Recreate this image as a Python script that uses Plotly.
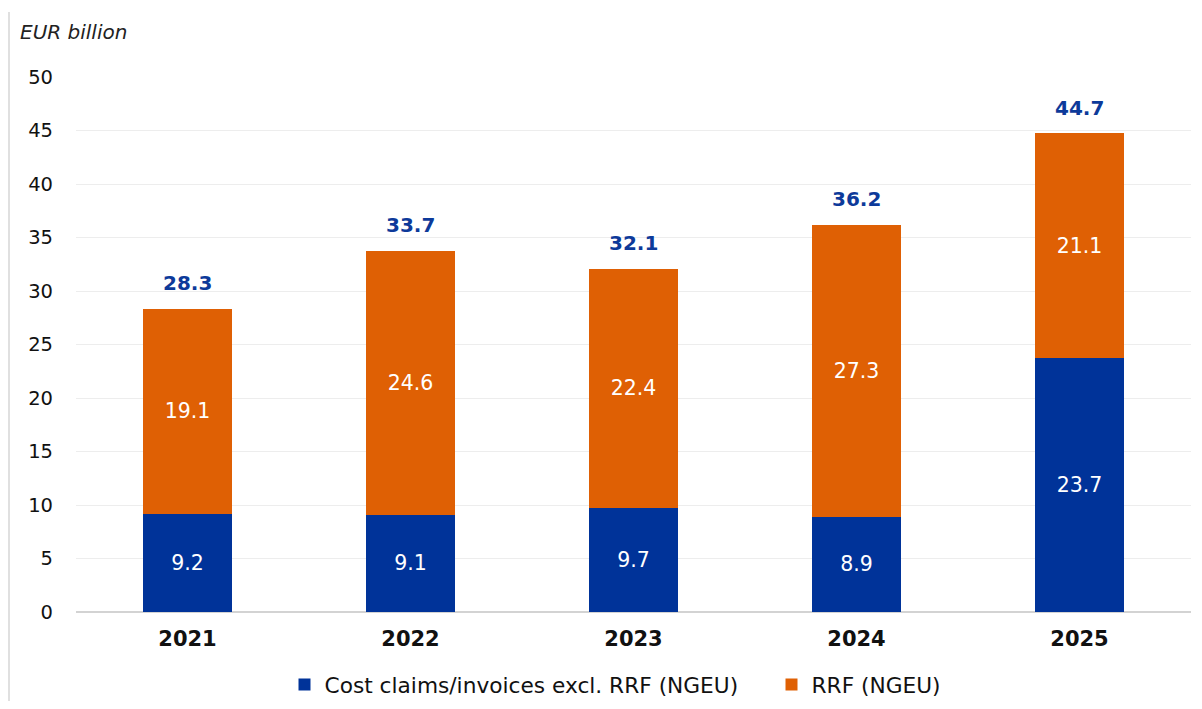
import plotly.graph_objects as go

years = ["2021", "2022", "2023", "2024", "2025"]
cost_claims = [9.2, 9.1, 9.7, 8.9, 23.7]
rrf = [19.1, 24.6, 22.4, 27.3, 21.1]
totals = [28.3, 33.7, 32.1, 36.2, 44.7]

BLUE = "#003399"
ORANGE = "#DF6004"
FONT = "DejaVu Sans"

fig = go.Figure()
fig.add_bar(x=years, y=cost_claims, name="Cost claims/invoices excl. RRF (NGEU)",
            marker_color=BLUE, marker_line_width=0, text=[f"{v:.1f}" for v in cost_claims],
            textposition="inside", insidetextanchor="middle", textangle=0,
            textfont=dict(color="white", size=20.5, family=FONT))
fig.add_bar(x=years, y=rrf, name="RRF (NGEU)",
            marker_color=ORANGE, marker_line_width=0, text=[f"{v:.1f}" for v in rrf],
            textposition="inside", insidetextanchor="middle", textangle=0,
            textfont=dict(color="white", size=20.5, family=FONT))

# totals above bars (x given as category index to avoid numeric-string ambiguity)
for i, t in enumerate(totals):
    fig.add_annotation(x=i, y=t, text=f"<b>{t:.1f}</b>", showarrow=False,
                       yanchor="bottom", yshift=12,
                       font=dict(color="#0D3A9A", size=20, family=FONT))

fig.add_annotation(xref="paper", yref="paper", x=-0.052, y=1.084,
                   xanchor="left", yanchor="middle", text="<i>EUR billion</i>",
                   showarrow=False, font=dict(size=20, color="#222", family=FONT))

fig.add_shape(type="line", xref="paper", yref="paper", x0=-0.0601, x1=-0.0601,
              y0=1.1215, y1=-0.2, line=dict(color="#D6D6D6", width=1.5))

fig.update_layout(
    barmode="stack", bargap=0.6,
    width=1186, height=693,
    margin=dict(l=68, r=3, t=69, b=89, autoexpand=False),
    plot_bgcolor="white", paper_bgcolor="white",
    font=dict(family=FONT, size=19, color="#111"),
    showlegend=True,
    legend=dict(orientation="h", x=0.187, xanchor="left", y=0.0231, yanchor="middle",
                yref="container", font=dict(size=21.7, family=FONT),
                traceorder="normal", entrywidth=442, entrywidthmode="pixels"),
    uniformtext=dict(mode=False),
)
fig.update_xaxes(type="category", tickfont=dict(size=21, family=FONT, color="#111"),
                 tickprefix="<b>", ticksuffix="</b>",
                 showline=False, ticks="", ticklabelstandoff=12)
fig.update_yaxes(range=[0, 50], dtick=5, gridcolor="#EDEDED", gridwidth=1,
                 zeroline=True, zerolinecolor="#D3D3D3", zerolinewidth=1.5,
                 tickfont=dict(size=19.5, family=FONT, color="#111"), ticklabelstandoff=22)

fig.write_html("out.html")
